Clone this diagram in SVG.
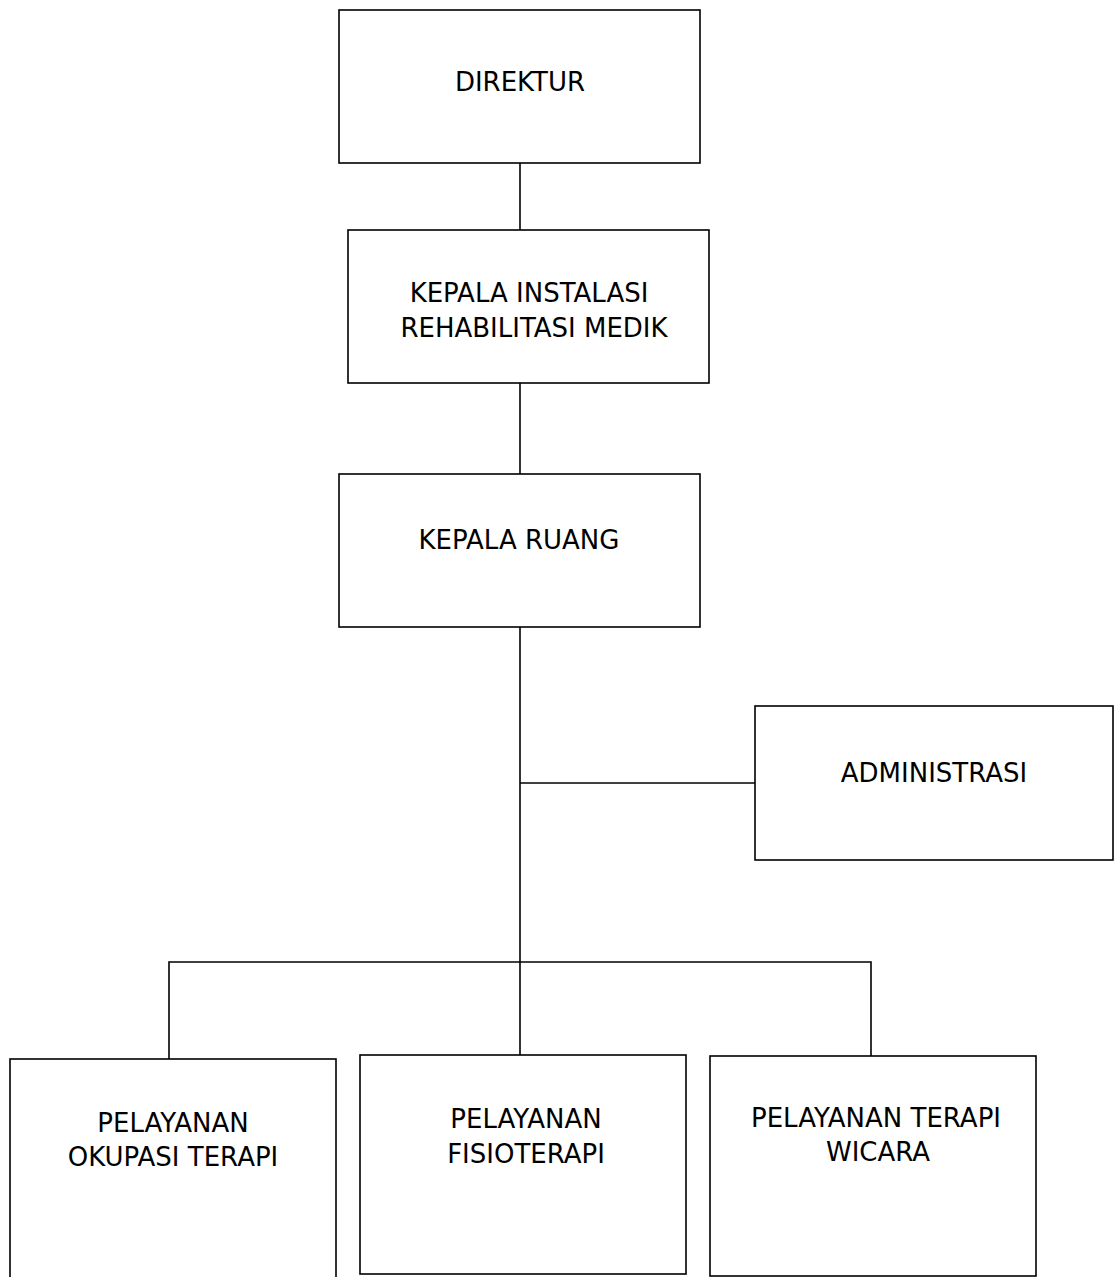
<svg xmlns="http://www.w3.org/2000/svg" width="1115" height="1277" viewBox="0 0 1115 1277">
<style>
.box{fill:#fff;stroke:#000;stroke-width:1.6}
.conn{fill:none;stroke:#000;stroke-width:1.6}
.lbl{font-family:"DejaVu Sans",Tahoma,Verdana,sans-serif;font-size:26px;fill:#000;text-anchor:middle}
</style>
<rect width="1115" height="1277" fill="#fff"/>
<g id="connectors">
<line class="conn" x1="520" y1="163" x2="520" y2="230"/>
<line class="conn" x1="520" y1="383" x2="520" y2="474"/>
<line class="conn" x1="520" y1="627" x2="520" y2="1055"/>
<line class="conn" x1="520" y1="783" x2="755" y2="783"/>
<polyline class="conn" points="169,1059 169,962 871,962 871,1056"/>
</g>
<g id="direktur">
<rect class="box" x="339" y="10" width="361" height="153"/>
<text class="lbl" x="520" y="91">DIREKTUR</text>
</g>
<g id="kepala-instalasi">
<rect class="box" x="348" y="230" width="361" height="153"/>
<text class="lbl" x="529" y="302">KEPALA INSTALASI</text>
<text class="lbl" x="534" y="337">REHABILITASI MEDIK</text>
</g>
<g id="kepala-ruang">
<rect class="box" x="339" y="474" width="361" height="153"/>
<text class="lbl" x="519" y="549">KEPALA RUANG</text>
</g>
<g id="administrasi">
<rect class="box" x="755" y="706" width="358" height="154"/>
<text class="lbl" x="934" y="782">ADMINISTRASI</text>
</g>
<g id="okupasi">
<rect class="box" x="10" y="1059" width="326" height="240"/>
<text class="lbl" x="173" y="1132">PELAYANAN</text>
<text class="lbl" x="173" y="1166">OKUPASI TERAPI</text>
</g>
<g id="fisioterapi">
<rect class="box" x="360" y="1055" width="326" height="219"/>
<text class="lbl" x="526" y="1128">PELAYANAN</text>
<text class="lbl" x="526" y="1163">FISIOTERAPI</text>
</g>
<g id="wicara">
<rect class="box" x="710" y="1056" width="326" height="220"/>
<text class="lbl" x="876" y="1127">PELAYANAN TERAPI</text>
<text class="lbl" x="878" y="1161">WICARA</text>
</g>
</svg>
